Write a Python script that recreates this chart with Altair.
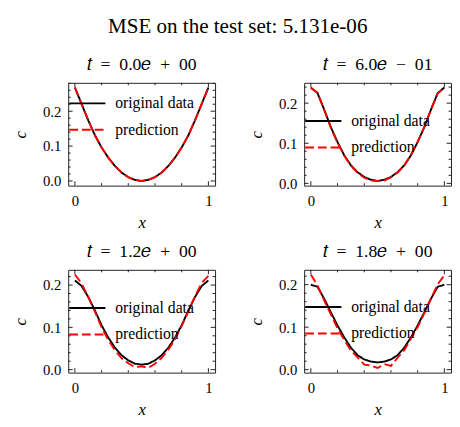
import altair as alt
import pandas as pd

FONT = "Liberation Serif"
FRAME = "#222222"
W, H = 150, 105
SP = "\u2002"

suptitle = "MSE on the test set: 5.131e-06"
titles = ["𝑡" + SP + "=" + SP + "0.0𝑒" + SP + "+" + SP + "00",
          "𝑡" + SP + "=" + SP + "6.0𝑒" + SP + "−" + SP + "01",
          "𝑡" + SP + "=" + SP + "1.2𝑒" + SP + "+" + SP + "00",
          "𝑡" + SP + "=" + SP + "1.8𝑒" + SP + "+" + SP + "00"]
series_names = ["original data", "prediction"]

xs = [0.00, 0.05, 0.10, 0.15, 0.20, 0.25, 0.30, 0.35, 0.40, 0.45, 0.50,
      0.55, 0.60, 0.65, 0.70, 0.75, 0.80, 0.85, 0.90, 0.95, 1.00]

orig_t0 = [0.268, 0.221, 0.174, 0.131, 0.096, 0.067, 0.043, 0.024, 0.011, 0.003, 0.000,
           0.003, 0.011, 0.024, 0.043, 0.067, 0.096, 0.131, 0.174, 0.221, 0.268]
pred_t0 = [0.268, 0.221, 0.174, 0.131, 0.096, 0.067, 0.043, 0.024, 0.011, 0.003, 0.000,
           0.003, 0.011, 0.024, 0.043, 0.067, 0.096, 0.131, 0.174, 0.221, 0.268]

orig_t1 = [0.239, 0.225, 0.184, 0.140, 0.103, 0.070, 0.045, 0.028, 0.016, 0.009, 0.006,
           0.009, 0.016, 0.028, 0.045, 0.070, 0.103, 0.140, 0.184, 0.225, 0.239]
pred_t1 = [0.238, 0.226, 0.183, 0.138, 0.101, 0.069, 0.044, 0.026, 0.014, 0.007, 0.006,
           0.007, 0.015, 0.027, 0.045, 0.071, 0.104, 0.141, 0.184, 0.224, 0.238]

orig_t2 = [0.211, 0.198, 0.172, 0.140, 0.105, 0.076, 0.052, 0.034, 0.022, 0.014, 0.012,
           0.014, 0.022, 0.034, 0.052, 0.076, 0.105, 0.140, 0.172, 0.198, 0.211]
pred_t2 = [0.225, 0.204, 0.172, 0.137, 0.100, 0.070, 0.046, 0.027, 0.015, 0.006, 0.008,
           0.004, 0.014, 0.028, 0.047, 0.072, 0.103, 0.138, 0.174, 0.205, 0.222]

orig_t3 = [0.200, 0.195, 0.167, 0.135, 0.104, 0.076, 0.052, 0.034, 0.024, 0.019, 0.017,
           0.019, 0.024, 0.034, 0.052, 0.076, 0.104, 0.135, 0.167, 0.195, 0.200]
pred_t3 = [0.224, 0.198, 0.163, 0.130, 0.097, 0.070, 0.045, 0.029, 0.012, 0.010, 0.004,
           0.013, 0.009, 0.028, 0.046, 0.073, 0.100, 0.133, 0.167, 0.201, 0.222]

x_major = [0, 1]
x_minor = [0.2, 0.4, 0.6, 0.8]
y_major = [0.0, 0.1, 0.2]
y_minor = [0.02, 0.04, 0.06, 0.08, 0.12, 0.14, 0.16, 0.18, 0.22, 0.24, 0.26, 0.28]

legend_y = [14, 32, 32, 31]


def make_panel(orig, pred, title, leg_y):
    df = pd.DataFrame({
        "x": xs + xs,
        "c": orig + pred,
        "series": [series_names[0]] * len(xs) + [series_names[1]] * len(xs),
    })
    allv = orig + pred
    lo, hi = min(allv), max(allv)
    pad = 0.05 * (hi - lo)
    ydom = [lo - pad, hi + pad]
    xsc = alt.Scale(domain=[-0.05, 1.05], nice=False, zero=False)
    ysc = alt.Scale(domain=ydom, nice=False, zero=False)
    xax = alt.Axis(values=x_major, format=".0f", title="x")
    yax = alt.Axis(values=y_major, format=".1f", title="c")
    leg = alt.Legend(title=None, orient="none", legendX=0, legendY=leg_y)
    lines = alt.Chart(df).mark_line(strokeWidth=1.9).encode(
        x=alt.X("x:Q", scale=xsc, axis=xax),
        y=alt.Y("c:Q", scale=ysc, axis=yax),
        color=alt.Color("series:N",
                        scale=alt.Scale(domain=series_names, range=["#000000", "#ff0000"]),
                        legend=leg),
        strokeDash=alt.StrokeDash("series:N",
                                  scale=alt.Scale(domain=series_names, range=[[1, 0], [9, 4]]),
                                  legend=leg),
    )
    layers = [lines]
    ymaj = [v for v in y_major if ydom[0] <= v <= ydom[1]]
    ymin = [v for v in y_minor if ydom[0] <= v <= ydom[1]]
    for vals, L in ((x_major, 4.5), (x_minor, 2.5)):
        d = pd.DataFrame({"x": vals})
        for y0, y1 in ((H, H - L), (0, L)):
            layers.append(
                alt.Chart(d).mark_rule(color=FRAME, strokeWidth=1).encode(
                    x=alt.X("x:Q", scale=xsc, axis=xax),
                    y=alt.value(y0), y2=alt.value(y1)))
    for vals, L in ((ymaj, 4.5), (ymin, 2.5)):
        d = pd.DataFrame({"c": vals})
        for x0, x1 in ((0, L), (W, W - L)):
            layers.append(
                alt.Chart(d).mark_rule(color=FRAME, strokeWidth=1).encode(
                    y=alt.Y("c:Q", scale=ysc, axis=yax),
                    x=alt.value(x0), x2=alt.value(x1)))
    return alt.layer(*layers).properties(
        width=W, height=H,
        title=alt.TitleParams(title, font=FONT, fontSize=18, fontWeight="normal",
                              color="black", offset=8.5))


panels = [
    make_panel(orig_t0, pred_t0, titles[0], legend_y[0]),
    make_panel(orig_t1, pred_t1, titles[1], legend_y[1]),
    make_panel(orig_t2, pred_t2, titles[2], legend_y[2]),
    make_panel(orig_t3, pred_t3, titles[3], legend_y[3]),
]

chart = alt.concat(
    *panels, columns=2, spacing={"row": 86, "column": 91}, bounds="flush"
).resolve_scale(
    color="independent", strokeDash="independent"
).resolve_legend(
    color="independent", strokeDash="independent"
).properties(
    title=alt.TitleParams(suptitle, font=FONT, fontSize=21.5, fontWeight="normal",
                          color="black", anchor="middle", offset=18.5, dx=6),
    padding={"left": 3.5, "top": 4, "right": 0, "bottom": 0},
).configure_view(
    stroke=FRAME, strokeWidth=1
).configure_axis(
    labelFont=FONT, labelFontSize=15, labelColor="black",
    titleFont=FONT, titleFontSize=17, titleFontStyle="italic",
    titleFontWeight="normal", titleColor="black",
    domain=False, ticks=False, tickSize=0, grid=False,
).configure_axisX(
    labelPadding=8, titlePadding=6.5
).configure_axisY(
    labelPadding=7.5, titlePadding=13
).configure_legend(
    symbolType="stroke", symbolSize=1369, symbolStrokeWidth=2,
    labelFont=FONT, labelFontSize=16, labelColor="black", labelOffset=9,
    clipHeight=14, rowPadding=11, padding=0, offset=0,
)

chart.save("out.html", embed_options={"renderer": "svg", "actions": False})
